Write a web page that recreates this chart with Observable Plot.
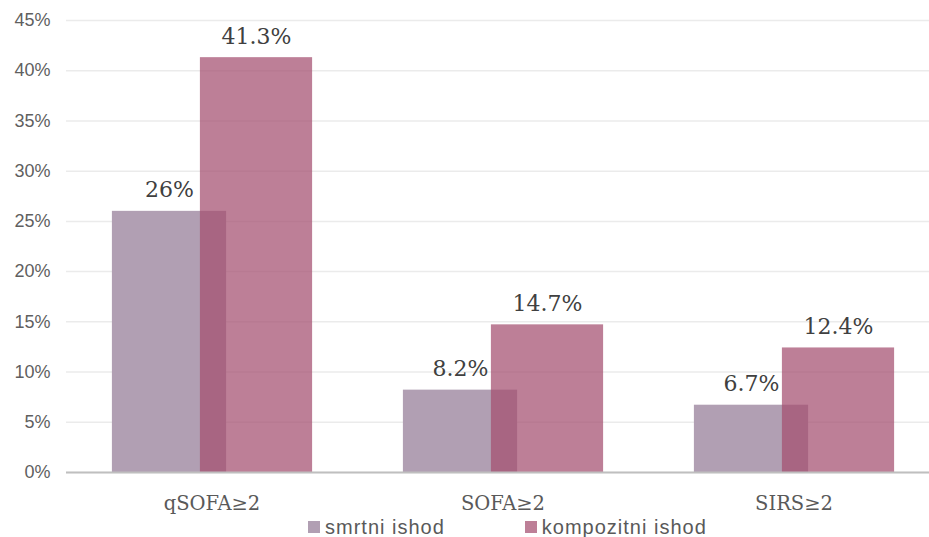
<!DOCTYPE html>
<html><head><meta charset="utf-8">
<script src="https://cdn.jsdelivr.net/npm/d3@7"></script>
<script src="https://cdn.jsdelivr.net/npm/@observablehq/plot@0.6"></script>
<style>
html,body{margin:0;padding:0;background:#fff;overflow:hidden;}
#legend{display:flex;align-items:center;height:20px;padding-left:308px;font-family:"Liberation Sans",Arial,sans-serif;font-size:20px;letter-spacing:1px;color:#595959;}
#legend .item{display:flex;align-items:center;}
#legend .sw{width:12px;height:12px;margin-right:5px;}
</style>
</head><body>
<div id="chart"></div>
<div id="legend"></div>
<script>
const categories = ["qSOFA≥2", "SOFA≥2", "SIRS≥2"];
const smrtni = [26, 8.2, 6.7];
const kompozitni = [41.3, 14.7, 12.4];
const valueLabels1 = ["26%", "8.2%", "6.7%"];
const valueLabels2 = ["41.3%", "14.7%", "12.4%"];
const yTicks = [0, 5, 10, 15, 20, 25, 30, 35, 40, 45];
const seriesNames = ["smrtni ishod", "kompozitni ishod"];
const colors = ["#b19fb3", "#a55071"];

const d1 = categories.map((c, i) => ({cat: c, v: smrtni[i], label: valueLabels1[i]}));
const d2 = categories.map((c, i) => ({cat: c, v: kompozitni[i], label: valueLabels2[i]}));

const serif = "'DejaVu Serif', serif";
const plot = Plot.plot({
  width: 929,
  height: 517,
  marginLeft: 66,
  marginRight: 0,
  marginTop: 20,
  marginBottom: 45,
  x: {domain: categories, range: [64.6, 940.4], padding: 0},
  y: {domain: [0, 45]},
  style: {background: "#fff", overflow: "visible"},
  marks: [
    Plot.gridY(yTicks, {stroke: "#ebebeb", strokeOpacity: 1, strokeWidth: 1.5}),
    Plot.axisY(yTicks, {tickSize: 0, tickPadding: 16, tickFormat: d => d + "%", fontSize: 18, fontFamily: "'Liberation Sans', Arial, sans-serif", fill: "#5f5f5f", style: "letter-spacing:1.5px", label: null}),
    Plot.barY(d1, {x: "cat", y: "v", fill: colors[0], insetLeft: 45.9, insetRight: 130.9}),
    Plot.barY(d2, {x: "cat", y: "v", fill: colors[1], fillOpacity: 0.73, insetLeft: 133.9, insetRight: 44.9}),
    Plot.ruleY([0], {stroke: "#bfbfbf", strokeWidth: 2}),
    Plot.text(d1, {x: "cat", y: "v", text: "label", dx: -42.5, dy: -14, lineAnchor: "bottom", fontSize: 22, fontFamily: serif, fill: "#404040", style: "letter-spacing:2px"}),
    Plot.text(d2, {x: "cat", y: "v", text: "label", dx: 44.5, dy: -14, lineAnchor: "bottom", fontSize: 22, fontFamily: serif, fill: "#404040", style: "letter-spacing:2px"}),
    Plot.axisX({tickSize: 0, tickPadding: 24, fontSize: 19.5, fontFamily: serif, fill: "#595959", label: null, style: "letter-spacing:0.5px"})
  ]
});
document.getElementById("chart").appendChild(plot);

const legend = document.getElementById("legend");
seriesNames.forEach((n, i) => {
  const it = document.createElement("div");
  it.className = "item";
  if (i > 0) it.style.marginLeft = "80px";
  const sw = document.createElement("span");
  sw.className = "sw";
  sw.style.background = i === 0 ? colors[0] : "#bd7f97";
  const t = document.createElement("span");
  t.textContent = n;
  it.appendChild(sw); it.appendChild(t);
  legend.appendChild(it);
});
</script>
</body></html>
